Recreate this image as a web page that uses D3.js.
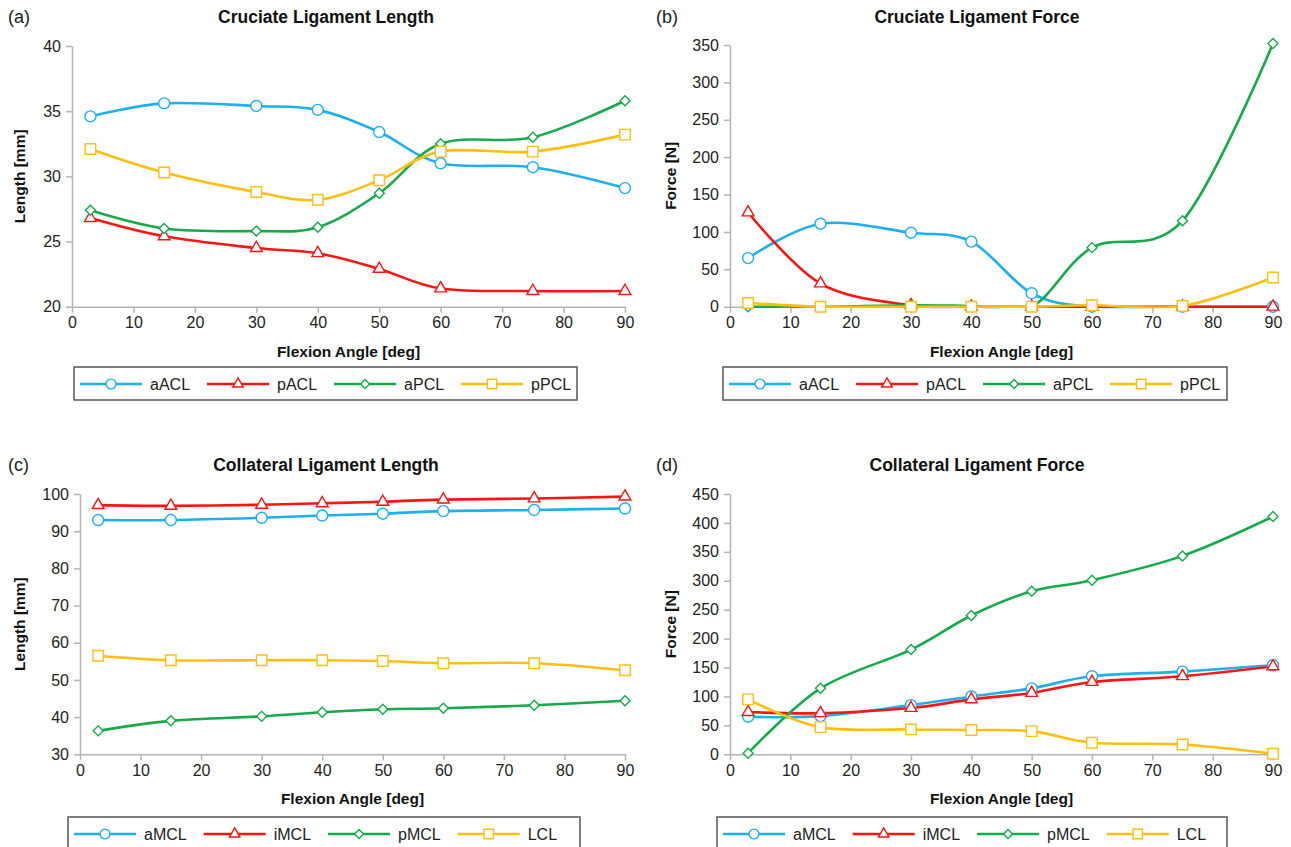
<!DOCTYPE html>
<html>
<head>
<meta charset="utf-8">
<script src="https://cdn.jsdelivr.net/npm/d3@7"></script>
<style>
  body { margin: 0; background: #fff; }
  svg { font-family: "Liberation Sans", Arial, sans-serif; }
  .tick text { font-size: 16px; fill: #222; }
  .axis .domain { stroke: #b4b4b4; stroke-width: 1.5; }
  .axis .tick line { stroke: #b4b4b4; stroke-width: 1.5; }
</style>
</head>
<body>
<div id="chart"></div>
<script>
// flexion angles where the model was evaluated
const angles = [3, 15, 30, 40, 50, 60, 75, 90];
const xTicks = [0, 10, 20, 30, 40, 50, 60, 70, 80, 90];

const cruciateNames = ["aACL", "pACL", "aPCL", "pPCL"];
const collateralNames = ["aMCL", "iMCL", "pMCL", "LCL"];
const seriesColors = ["#1eb0ec", "#ff1414", "#15ab4a", "#ffbf0f"];
const seriesSymbols = ["circle", "triangle", "diamond", "square"];

// (a) cruciate length [mm]
const aACLLength = [34.6, 35.6, 35.4, 35.1, 33.4, 31.0, 30.7, 29.1];
const pACLLength = [26.8, 25.4, 24.5, 24.1, 22.9, 21.4, 21.2, 21.2];
const aPCLLength = [27.4, 26.0, 25.8, 26.1, 28.7, 32.5, 33.0, 35.8];
const pPCLLength = [32.1, 30.3, 28.8, 28.2, 29.7, 31.9, 31.9, 33.2];

// (b) cruciate force [N]
const aACLForce = [65, 111, 99, 87, 18, 0, 0, 0];
const pACLForce = [126, 31, 2, 0, 0, 0, 0, 0];
const aPCLForce = [0, 0, 2, 1, 0, 79, 115, 352];
const pPCLForce = [5, 0, 0, 0, 0, 2, 1, 39];

// (c) collateral length [mm]
const aMCLLength = [93.0, 93.0, 93.6, 94.2, 94.7, 95.4, 95.7, 96.1];
const iMCLLength = [97.0, 96.8, 97.1, 97.5, 97.9, 98.5, 98.8, 99.3];
const pMCLLength = [36.3, 39.0, 40.2, 41.3, 42.1, 42.4, 43.2, 44.4];
const LCLLength = [56.5, 55.3, 55.3, 55.3, 55.1, 54.5, 54.5, 52.6];

// (d) collateral force [N]
const aMCLForce = [65, 66, 85, 100, 114, 135, 143, 154];
const iMCLForce = [73, 71, 80, 95, 106, 125, 135, 152];
const pMCLForce = [2, 114, 181, 240, 282, 301, 343, 411];
const LCLForce = [95, 47, 43, 42, 40, 20, 17, 1];

const yTicksA = [20, 25, 30, 35, 40];
const yTicksB = [0, 50, 100, 150, 200, 250, 300, 350];
const yTicksC = [30, 40, 50, 60, 70, 80, 90, 100];
const yTicksD = [0, 50, 100, 150, 200, 250, 300, 350, 400, 450];

const svg = d3.select("#chart").append("svg")
    .attr("width", 1291)
    .attr("height", 847);

const symbolTypes = {
    circle: d3.symbolCircle,
    triangle: d3.symbolTriangle,
    diamond: d3.symbolSquare,   // rotated below
    square: d3.symbolSquare
};
const symbolSizes = { circle: 95, triangle: 60, diamond: 50, square: 110 };

function marker(sel, kind, color, scale) {
    sel.append("path")
        .attr("d", d3.symbol().type(symbolTypes[kind]).size(symbolSizes[kind] * scale))
        .attr("transform", kind === "diamond" ? "rotate(45)" : null)
        .attr("fill", "#fff")
        .attr("stroke", color)
        .attr("stroke-width", 1.4);
}

let clipCount = 0;

function panel(p) {
    let x = d3.scaleLinear().domain([0, 90]).range([p.left, p.right]);
    let y = d3.scaleLinear().domain(d3.extent(p.yTicks)).range([p.bottom, p.top]);

    let g = svg.append("g");

    let clipId = "clip" + (clipCount++);
    g.append("clipPath").attr("id", clipId)
        .append("rect")
        .attr("x", p.left - 10).attr("y", p.top - 20)
        .attr("width", p.right - p.left + 20)
        .attr("height", p.bottom - p.top + 21.5);

    g.append("g")
        .attr("class", "axis")
        .attr("transform", "translate(0," + p.bottom + ")")
        .call(d3.axisBottom(x).tickValues(xTicks).tickSize(6).tickSizeOuter(0).tickPadding(4));

    g.append("g")
        .attr("class", "axis")
        .attr("transform", "translate(" + p.left + ",0)")
        .call(d3.axisLeft(y).tickValues(p.yTicks).tickSize(6).tickSizeOuter(0).tickPadding(5));

    let line = d3.line()
        .curve(d3.curveCardinal)
        .x((d, i) => x(angles[i]))
        .y(d => y(d));

    p.series.forEach((vals, k) => {
        g.append("path")
            .attr("d", line(vals))
            .attr("clip-path", "url(#" + clipId + ")")
            .attr("fill", "none")
            .attr("stroke", seriesColors[k])
            .attr("stroke-width", 2.6);
    });
    p.series.forEach((vals, k) => {
        vals.forEach((v, i) => {
            let m = g.append("g").attr("transform", "translate(" + x(angles[i]) + "," + y(v) + ")");
            marker(m, seriesSymbols[k], seriesColors[k], 1);
        });
    });

    // letters and titles
    g.append("text")
        .attr("x", p.letterX)
        .attr("y", p.titleY + 6)
        .attr("font-size", 18)
        .attr("fill", "#222")
        .text(p.letter);

    g.append("text")
        .attr("x", p.titleX)
        .attr("y", p.titleY + 6)
        .attr("text-anchor", "middle")
        .attr("font-size", 17.5)
        .attr("font-weight", "bold")
        .attr("fill", "#111")
        .text(p.title);

    g.append("text")
        .attr("transform", "translate(" + p.yLabelX + "," + ((p.top + p.bottom) / 2) + ") rotate(-90)")
        .attr("text-anchor", "middle")
        .attr("font-size", 15.5)
        .attr("font-weight", "bold")
        .attr("fill", "#111")
        .text(p.yLabel);

    g.append("text")
        .attr("x", (p.left + p.right) / 2)
        .attr("y", p.bottom + 50)
        .attr("text-anchor", "middle")
        .attr("font-size", 15.5)
        .attr("font-weight", "bold")
        .attr("fill", "#111")
        .text("Flexion Angle [deg]");

    // legend box
    let lg = g.append("g").attr("transform", "translate(" + p.legendX + "," + p.legendY + ")");
    lg.append("rect")
        .attr("width", p.legendW)
        .attr("height", 33)
        .attr("fill", "#fff")
        .attr("stroke", "#555")
        .attr("stroke-width", 1.5);

    let cx = 6;
    p.names.forEach((name, k) => {
        lg.append("line")
            .attr("x1", cx).attr("x2", cx + 62)
            .attr("y1", 17).attr("y2", 17)
            .attr("stroke", seriesColors[k])
            .attr("stroke-width", 2.6);
        let m = lg.append("g").attr("transform", "translate(" + (cx + 31) + ",17)");
        marker(m, seriesSymbols[k], seriesColors[k], 0.8);
        let t = lg.append("text")
            .attr("x", cx + 70)
            .attr("y", 22.5)
            .attr("font-size", 16)
            .attr("fill", "#222")
            .text(name);
        cx += 70 + t.node().getComputedTextLength() + 17;
    });
}

panel({
    left: 72, right: 625, top: 46, bottom: 306.7,
    yTicks: yTicksA, yLabel: "Length [mm]", yLabelX: 25,
    title: "Cruciate Ligament Length", titleX: 326, titleY: 17,
    letter: "(a)", letterX: 8,
    names: cruciateNames,
    series: [aACLLength, pACLLength, aPCLLength, pPCLLength],
    legendX: 74, legendY: 367, legendW: 503
});

panel({
    left: 730, right: 1273, top: 45, bottom: 306.7,
    yTicks: yTicksB, yLabel: "Force [N]", yLabelX: 676,
    title: "Cruciate Ligament Force", titleX: 977, titleY: 17,
    letter: "(b)", letterX: 656,
    names: cruciateNames,
    series: [aACLForce, pACLForce, aPCLForce, pPCLForce],
    legendX: 723, legendY: 367, legendW: 504
});

panel({
    left: 80, right: 625, top: 494, bottom: 754.3,
    yTicks: yTicksC, yLabel: "Length [mm]", yLabelX: 25,
    title: "Collateral Ligament Length", titleX: 326, titleY: 465,
    letter: "(c)", letterX: 8,
    names: collateralNames,
    series: [aMCLLength, iMCLLength, pMCLLength, LCLLength],
    legendX: 68, legendY: 817, legendW: 512
});

panel({
    left: 730, right: 1273, top: 494, bottom: 754.3,
    yTicks: yTicksD, yLabel: "Force [N]", yLabelX: 676,
    title: "Collateral Ligament Force", titleX: 977, titleY: 465,
    letter: "(d)", letterX: 656,
    names: collateralNames,
    series: [aMCLForce, iMCLForce, pMCLForce, LCLForce],
    legendX: 717, legendY: 817, legendW: 510
});
</script>
</body>
</html>
